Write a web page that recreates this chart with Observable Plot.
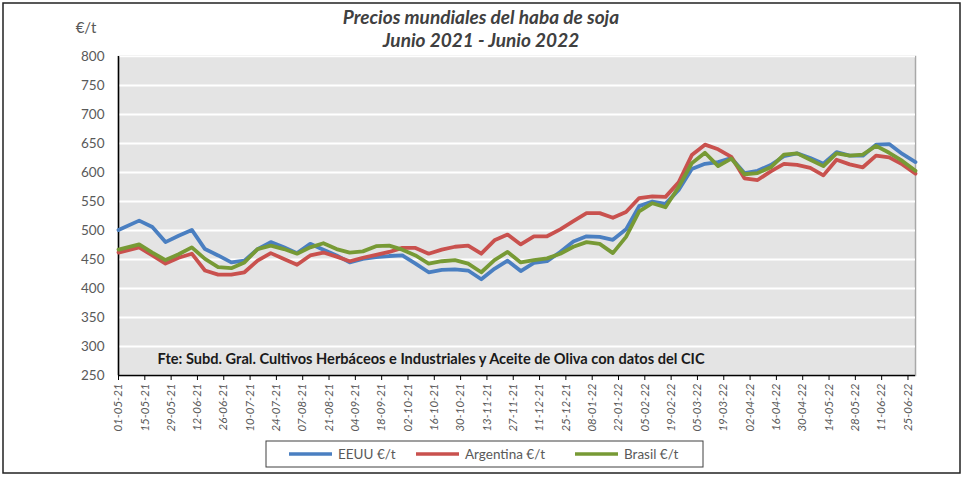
<!DOCTYPE html>
<html>
<head>
<meta charset="utf-8">
<script src="https://cdn.jsdelivr.net/npm/d3@7"></script>
<script src="https://cdn.jsdelivr.net/npm/@observablehq/plot@0.6"></script>
<style>
  html, body { margin: 0; padding: 0; background: #fff; }
  #chart { width: 964px; height: 477px; }
</style>
</head>
<body>
<div id="chart"></div>
<script>
const titleLines = ["Precios mundiales del haba de soja", "Junio 2021 - Junio 2022"];
const unitLabel = "€/t";
const sourceNote = "Fte: Subd. Gral. Cultivos Herbáceos e Industriales y Aceite de Oliva con datos del CIC";
const seriesNames = ["EEUU €/t", "Argentina €/t", "Brasil €/t"];
const seriesColors = ["#4a7fc1", "#c9514e", "#779a35"];

const dates = [
  "2021-05-01","2021-05-12","2021-05-19","2021-05-26","2021-06-02","2021-06-09","2021-06-16","2021-06-23","2021-06-30",
  "2021-07-07","2021-07-14","2021-07-21","2021-07-28","2021-08-04","2021-08-11","2021-08-18","2021-08-25",
  "2021-09-01","2021-09-08","2021-09-15","2021-09-22","2021-09-29","2021-10-06","2021-10-13","2021-10-20","2021-10-27",
  "2021-11-03","2021-11-10","2021-11-17","2021-11-24","2021-12-01","2021-12-08","2021-12-15","2021-12-22","2021-12-29",
  "2022-01-05","2022-01-12","2022-01-19","2022-01-26","2022-02-02","2022-02-09","2022-02-16","2022-02-23",
  "2022-03-02","2022-03-09","2022-03-16","2022-03-23","2022-03-30","2022-04-06","2022-04-13","2022-04-20","2022-04-27",
  "2022-05-04","2022-05-11","2022-05-18","2022-05-25","2022-06-01","2022-06-08","2022-06-15","2022-06-22","2022-06-29"
];

const eeuu = [501,517,506,480,491,501,468,457,445,448,468,480,471,461,477,467,457,445,451,454,
  456,457,443,428,432,433,431,416,434,448,430,444,447,463,481,490,489,484,502,542,
  550,546,570,606,615,618,625,599,603,613,628,633,625,615,635,629,629,648,649,632,618];
const argentina = [462,471,457,443,453,460,431,424,424,428,448,461,451,441,457,462,455,447,453,458,
  463,470,470,460,467,472,474,460,483,493,476,490,490,502,516,530,530,522,532,556,
  559,558,583,630,648,640,627,590,587,602,615,613,608,595,622,614,609,629,626,614,598];
const brasil = [467,476,462,449,459,471,451,437,435,445,468,474,468,460,471,478,468,462,464,473,
  474,467,457,443,447,449,443,428,449,463,445,449,452,460,472,480,477,461,489,533,
  547,540,575,616,634,611,624,597,599,609,631,633,622,611,633,629,631,646,634,620,603];

const xDomain = ["2021-05-01", "2022-06-29"];
const xTickStart = "2021-05-01";
const xTickEnd = "2022-06-25";
const yTicks = [250,300,350,400,450,500,550,600,650,700,750,800];

const seriesValues = [eeuu, argentina, brasil];
const data = [];
seriesNames.forEach((name, s) => {
  dates.forEach((d, i) => data.push({date: new Date(d), value: seriesValues[s][i], series: name}));
});
const xTicks = d3.utcDays(new Date(xTickStart), d3.utcDay.offset(new Date(xTickEnd), 1), 14);

const font = "Lato, 'Open Sans', sans-serif";
const textColor = "#595959";

const chart = Plot.plot({
  width: 964,
  height: 477,
  marginLeft: 118,
  marginRight: 49,
  marginTop: 56,
  marginBottom: 102,
  style: {background: "transparent", fontFamily: font, color: textColor},
  x: {type: "utc", domain: xDomain.map(d => new Date(d))},
  y: {domain: [250, 800]},
  color: {domain: seriesNames, range: seriesColors},
  marks: [
    Plot.frame({fill: "#e4e4e4", stroke: "#a8a8a8", strokeWidth: 1.5}),
    Plot.gridY(yTicks, {stroke: "#ffffff", strokeOpacity: 1, strokeWidth: 2}),
    Plot.axisY(yTicks, {tickSize: 0, tickPadding: 14, fontSize: 13.5, fill: textColor, label: null}),
    Plot.axisX(xTicks, {
      tickRotate: -90, tickFormat: d3.utcFormat("%d-%m-%y"), tickSize: 5, tickPadding: 3,
      fontSize: 11.5, fill: textColor, stroke: "#000", label: null, fontStyle: "italic"
    }),
    Plot.ruleY([250], {stroke: "#000", strokeWidth: 1.5}),
    Plot.ruleX([new Date(xDomain[0])], {stroke: "#000", strokeWidth: 1.5}),
    Plot.line(data, {x: "date", y: "value", z: "series", stroke: "series", strokeWidth: 3.8, strokeLinejoin: "round"}),
    Plot.text([sourceNote], {text: d => d, frameAnchor: "bottom-left", dx: 39, dy: -12, textAnchor: "start",
      fontSize: 14.6, fontWeight: "bold", fill: "#1a1a1a", fontFamily: font, letterSpacing: "0.55px"})
  ]
});

document.getElementById("chart").appendChild(chart);
const svg = d3.select(chart);

// outer border
svg.append("rect").attr("x", 3).attr("y", 3).attr("width", 957).attr("height", 470)
  .attr("fill", "none").attr("stroke", "#222").attr("stroke-width", 1.5);

// title
titleLines.forEach((t, i) => {
  svg.append("text").attr("x", 481).attr("y", 24 + i * 23).attr("text-anchor", "middle")
    .attr("font-family", font).attr("font-size", 19).attr("font-weight", "bold").attr("font-style", "italic")
    .attr("fill", "#404040").text(t);
});
svg.append("text").attr("x", 86).attr("y", 33).attr("text-anchor", "middle")
  .attr("font-family", font).attr("font-size", 15).attr("fill", textColor).text(unitLabel);

// legend
const lg = svg.append("g");
lg.append("rect").attr("x", 266).attr("y", 441).attr("width", 437).attr("height", 26)
  .attr("fill", "#fff").attr("stroke", "#404040").attr("stroke-width", 1);
const legendX = [289, 416, 575];
seriesNames.forEach((name, i) => {
  lg.append("line").attr("x1", legendX[i]).attr("x2", legendX[i] + 43).attr("y1", 454).attr("y2", 454)
    .attr("stroke", seriesColors[i]).attr("stroke-width", 3.5);
  lg.append("text").attr("x", legendX[i] + 49).attr("y", 459).attr("text-anchor", "start")
    .attr("font-family", font).attr("font-size", 13.5).attr("fill", textColor).text(name);
});
</script>
</body>
</html>
